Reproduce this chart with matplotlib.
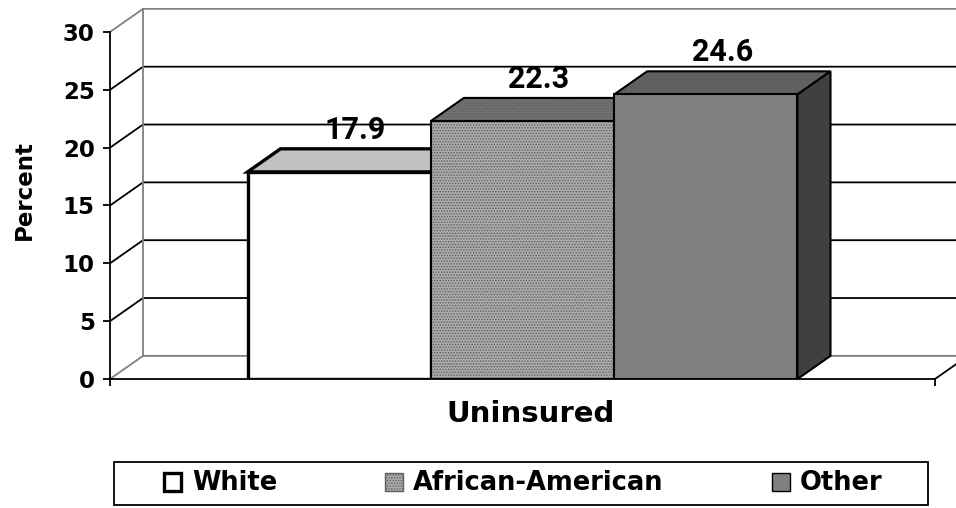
import matplotlib

matplotlib.use("Agg")
import matplotlib.pyplot as plt
import numpy as np
from matplotlib.font_manager import FontProperties
from matplotlib.patches import Patch, Polygon, Rectangle

groups = ["White", "African-American", "Other"]
values = [17.9, 22.3, 24.6]
category = "Uninsured"
y_ticks = [0, 5, 10, 15, 20, 25, 30]
y_max = 30

# front / top / side shading per group
front_colors = ["#ffffff", "#ababab", "#808080"]
top_colors = ["#c0c0c0", "#727272", "#606060"]
side_colors = ["#a0a0a0", "#5a5a5a", "#404040"]
hatches = [None, "......", None]
hatch_colors = [None, "#5e5e5e", None]
edge_widths = [2.4, 1.5, 1.5]

DX, DY = 0.04, 2.0   # depth of the 3-D box in data units
GAP = 1.5            # gap width relative to one bar
GREY = "#808080"

plt.rcParams["font.family"] = ["DejaVu Sans"]
plt.rcParams["font.weight"] = "bold"
plt.rcParams["hatch.linewidth"] = 0.7

label_font = FontProperties(family=["Roboto", "DejaVu Sans"], weight="bold", size=22)

W, H = 956, 508
fig = plt.figure(figsize=(W / 100, H / 100), dpi=100)

# front plane: x 0..1 spans px 110..935, y 0..30 spans px 379..32
x_px0, x_px1 = 110, 935
y_px0, y_px30 = 379, 32
ppx = x_px1 - x_px0
ppy = (y_px0 - y_px30) / y_max
xlim = (0, 1.06)
ylim = (0, 32.5)
ax = fig.add_axes([x_px0 / W, (H - y_px0) / H, ppx * xlim[1] / W, ppy * ylim[1] / H])
ax.set_xlim(*xlim)
ax.set_ylim(*ylim)
ax.patch.set_visible(False)

# back wall, side wall and floor
for t in y_ticks:
    c = GREY if t in (0, y_max) else "black"
    ax.plot([0, DX, 1 + DX], [t, t + DY, t + DY], color=c, lw=1.3,
            solid_joinstyle="miter", zorder=1)
ax.plot([DX, DX], [DY, y_max + DY], color=GREY, lw=1.3, zorder=1)
ax.plot([1, 1 + DX], [0, DY], color="black", lw=1.3, zorder=1)

# axes
for side in ("top", "right"):
    ax.spines[side].set_visible(False)
ax.spines["left"].set_bounds(0, y_max)
ax.spines["bottom"].set_bounds(0, 1)
for side in ("left", "bottom"):
    ax.spines[side].set_linewidth(1.3)
    ax.spines[side].set_zorder(6)
ax.set_yticks(y_ticks)
ax.set_xticks([0, 1])
ax.set_xticklabels([])
ax.tick_params(axis="y", direction="out", length=5, width=1.3, pad=6, labelsize=16.5)
ax.tick_params(axis="x", direction="out", length=5, width=1.3)

# bars
n = len(values)
bw = 1 / (n + GAP)
lefts = GAP / 2 * bw + bw * np.arange(n)
for i, (x0, v) in enumerate(zip(lefts, values)):
    x1 = x0 + bw
    front = [(x0, 0), (x1, 0), (x1, v), (x0, v)]
    top = [(x0, v), (x1, v), (x1 + DX, v + DY), (x0 + DX, v + DY)]
    side = [(x1, 0), (x1 + DX, DY), (x1 + DX, v + DY), (x1, v)]
    z = 3 + i
    for pts, fc in ((top, top_colors[i]), (side, side_colors[i]), (front, front_colors[i])):
        if hatches[i]:
            ax.add_patch(Polygon(pts, closed=True, facecolor=fc, edgecolor=hatch_colors[i],
                                 lw=0, hatch=hatches[i], zorder=z))
            ax.add_patch(Polygon(pts, closed=True, fill=False, edgecolor="black",
                                 lw=edge_widths[i], joinstyle="miter", zorder=z))
        else:
            ax.add_patch(Polygon(pts, closed=True, facecolor=fc, edgecolor="black",
                                 lw=edge_widths[i], joinstyle="miter", zorder=z))
    ax.annotate(f"{v}", xy=(x0 + bw / 2 + DX / 2, v + DY), xytext=(0, 3),
                textcoords="offset points", ha="center", va="bottom",
                fontproperties=label_font, zorder=8)

fig.text(531 / W, 1 - 422 / H, category, ha="center", va="baseline",
         fontsize=21, fontweight="bold")
fig.text(24 / W, 1 - 190 / H, "Percent", rotation=90, ha="center", va="center",
         fontsize=16.5, fontweight="bold")

# legend
handles = [
    Patch(facecolor=front_colors[0], edgecolor="black", lw=2.4),
    Patch(facecolor=front_colors[1], edgecolor=hatch_colors[1], lw=1.0, hatch=hatches[1]),
    Patch(facecolor=front_colors[2], edgecolor="black", lw=1.0),
]
fig.legend(handles, groups, loc="center", bbox_to_anchor=(523 / W, 1 - 483.5 / H),
           ncol=3, frameon=False, fontsize=18.5, handlelength=0.7, handleheight=0.7,
           handletextpad=0.4, columnspacing=4.2, borderpad=0)
fig.add_artist(Rectangle((114 / W, (H - 505) / H), 814 / W, 43 / H,
                         transform=fig.transFigure, fill=False, edgecolor="black", lw=1.3))

fig.savefig("out.png", dpi=100, facecolor="white")
